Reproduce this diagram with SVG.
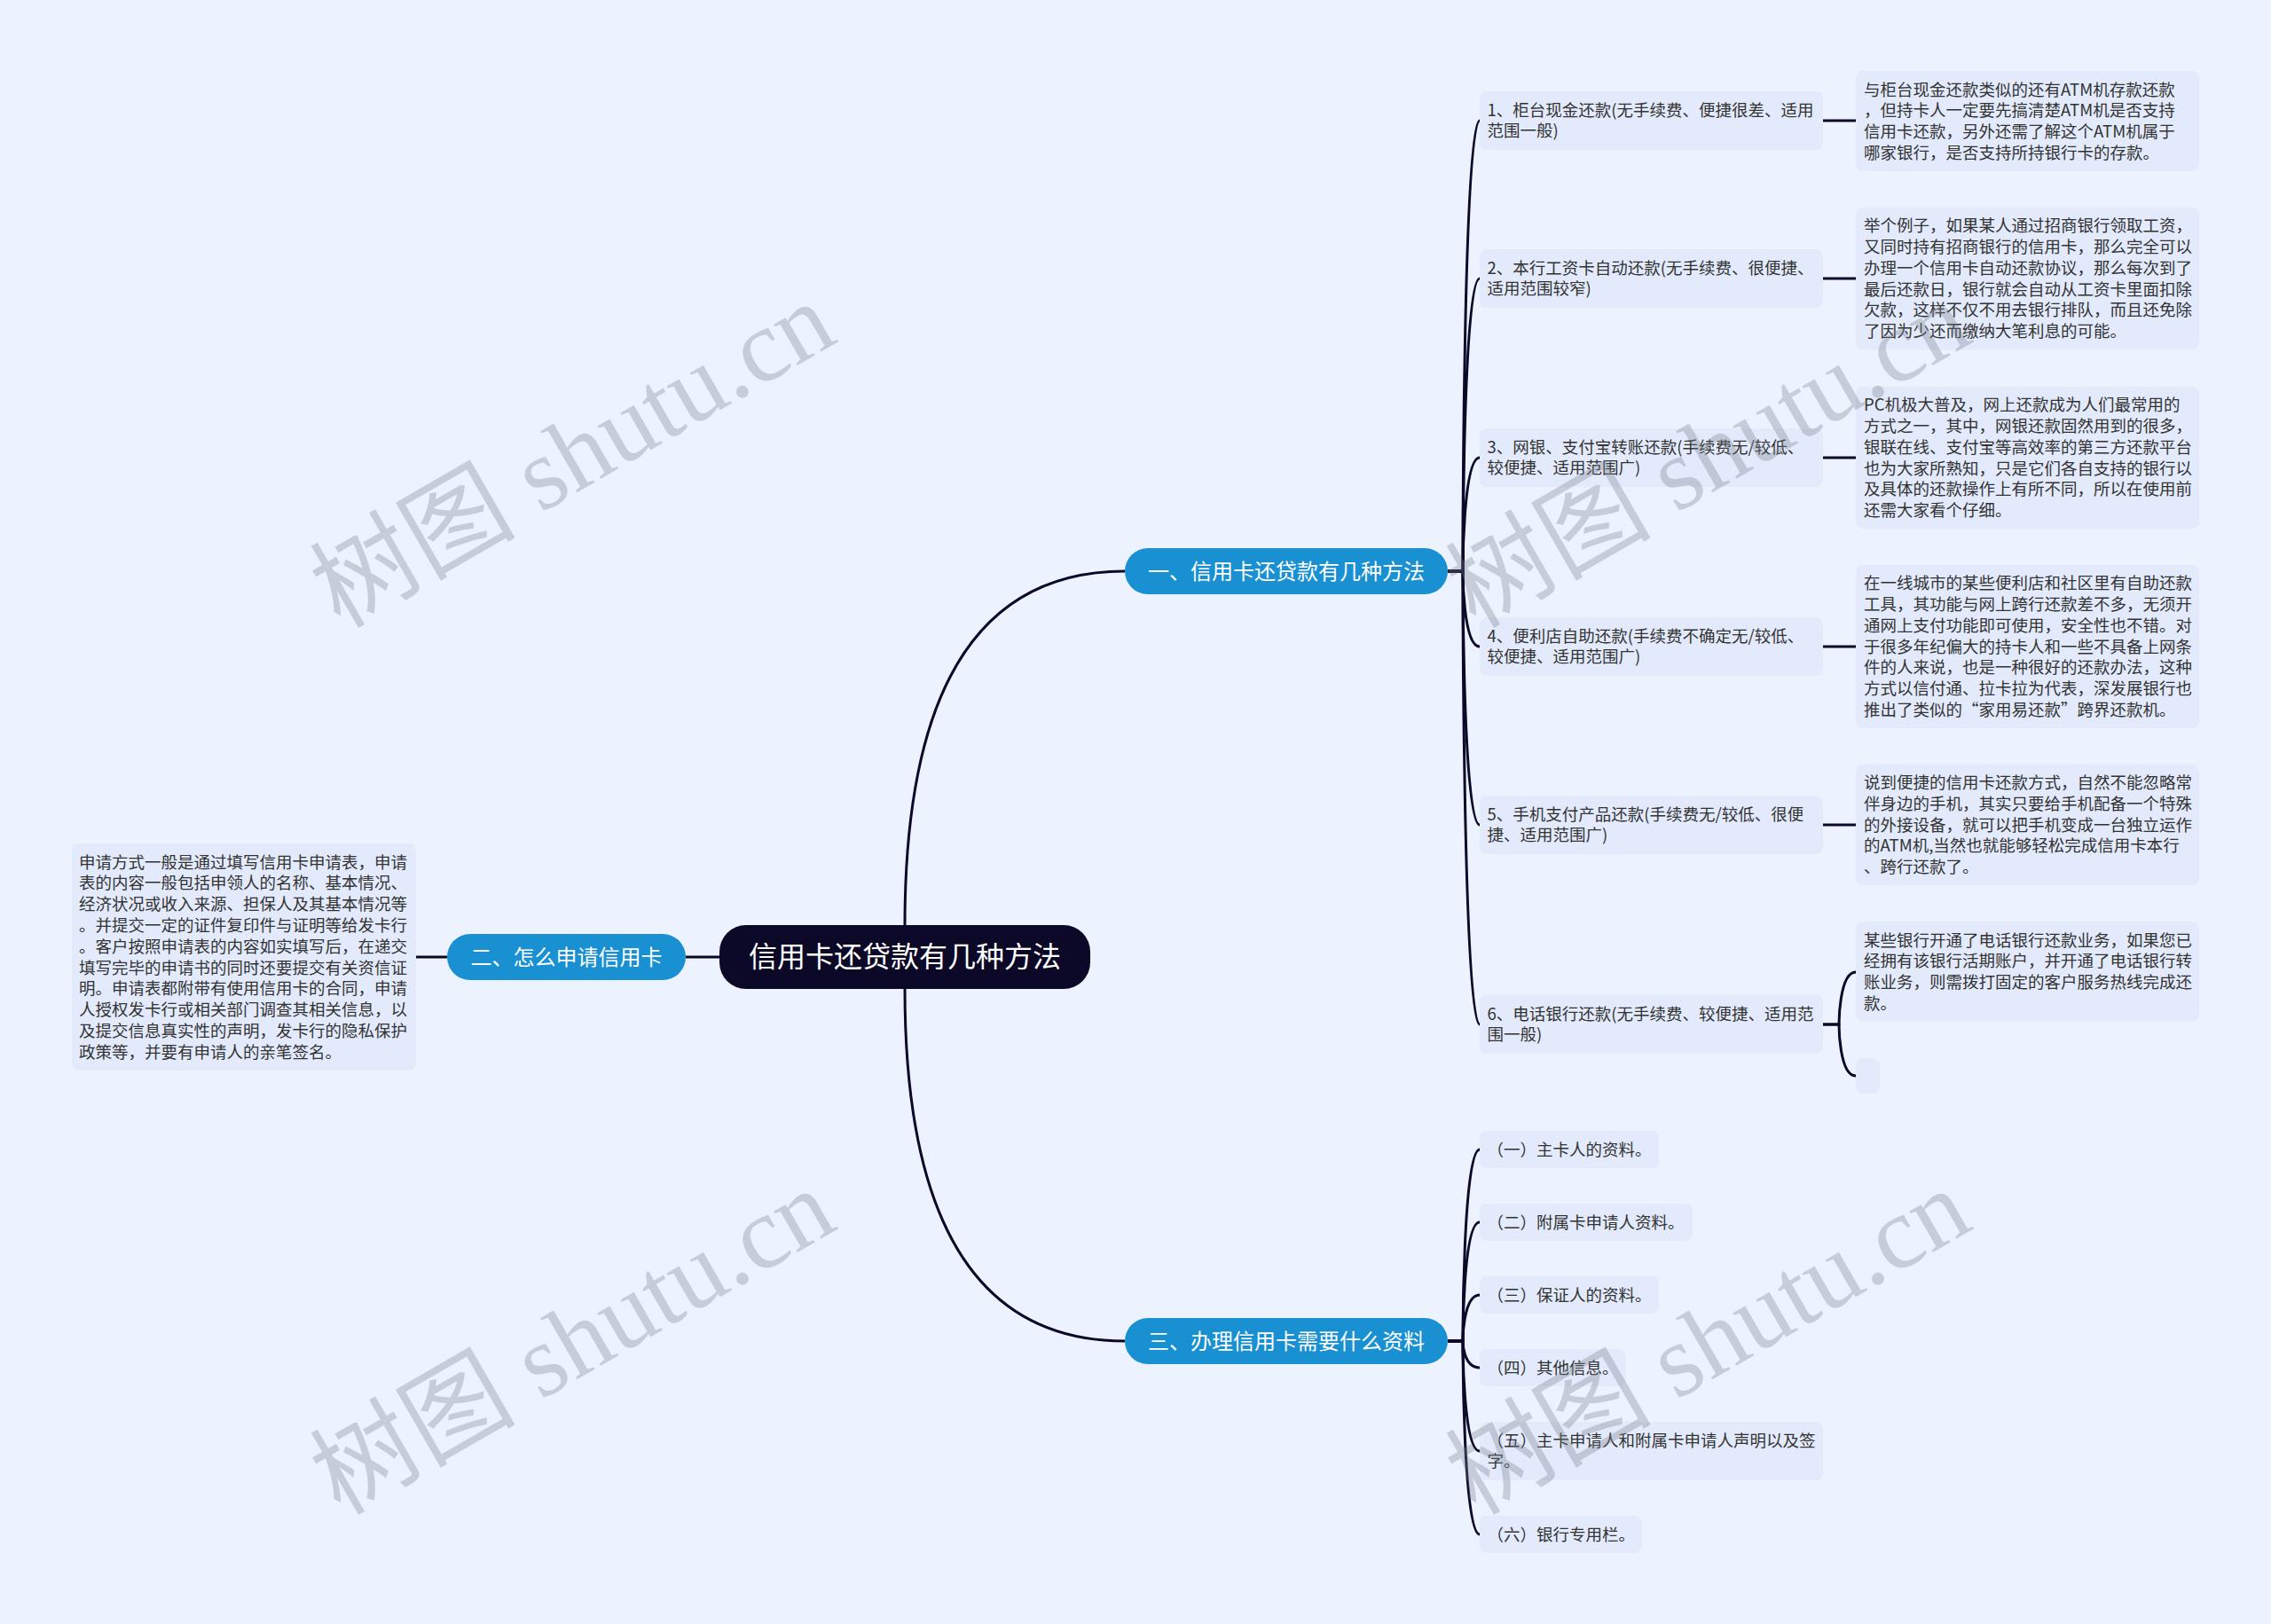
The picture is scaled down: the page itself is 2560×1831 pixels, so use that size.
<svg xmlns="http://www.w3.org/2000/svg" width="2560" height="1831" viewBox="0 0 2560 1831">
<style>
.bg{fill:#edf3fe}
.box{fill:#e2eafc}
.t{font-family:"Noto Sans CJK SC","Noto Sans",sans-serif;font-size:18.5px;fill:#333333}
.br{fill:#1890d2}
.bt{font-family:"Noto Sans CJK SC","Noto Sans",sans-serif;font-size:24px;fill:#ffffff;text-anchor:middle}
.root{fill:#0c0828}
.rt{font-family:"Noto Sans CJK SC","Noto Sans",sans-serif;font-size:32px;fill:#ffffff;text-anchor:middle}
.ln{fill:none;stroke:#0c0828;stroke-width:3}
.wm{font-family:"Liberation Serif","Noto Sans CJK SC",serif;font-size:116px;fill:#78808c;fill-opacity:0.33;text-anchor:middle}
</style>
<rect class="bg" x="0" y="0" width="2560" height="1831"/>
<g id="connectors">
<path class="ln" d="M1020,1043 Q1020,644 1268,644"/>
<path class="ln" d="M1020,1115 Q1020,1512 1268,1512"/>
<path class="ln" d="M811,1079 H773"/>
<path class="ln" d="M504,1079 H469"/>
<path class="ln" d="M1632,644 H1649 C1649,644 1649,136 1668,136"/>
<path class="ln" d="M1632,644 H1649 C1649,644 1649,314 1668,314"/>
<path class="ln" d="M1632,644 H1649 C1649,644 1649,516 1668,516"/>
<path class="ln" d="M1632,644 H1649 C1649,644 1649,729 1668,729"/>
<path class="ln" d="M1632,644 H1649 C1649,644 1649,930 1668,930"/>
<path class="ln" d="M1632,644 H1649 C1649,644 1649,1155 1668,1155"/>
<path class="ln" d="M2055,136 H2092"/>
<path class="ln" d="M2055,314 H2092"/>
<path class="ln" d="M2055,516 H2092"/>
<path class="ln" d="M2055,729 H2092"/>
<path class="ln" d="M2055,930 H2092"/>
<path class="ln" d="M2055,1155 H2073 C2073,1155 2073,1096 2092,1096"/>
<path class="ln" d="M2055,1155 H2073 C2073,1155 2073,1213 2092,1213"/>
<path class="ln" d="M1632,1512 H1649 C1649,1512 1649,1296 1668,1296"/>
<path class="ln" d="M1632,1512 H1649 C1649,1512 1649,1378 1668,1378"/>
<path class="ln" d="M1632,1512 H1649 C1649,1512 1649,1460 1668,1460"/>
<path class="ln" d="M1632,1512 H1649 C1649,1512 1649,1542 1668,1542"/>
<path class="ln" d="M1632,1512 H1649 C1649,1512 1649,1636 1668,1636"/>
<path class="ln" d="M1632,1512 H1649 C1649,1512 1649,1730 1668,1730"/>
</g>
<g id="root">
<rect class="root" x="811" y="1043" width="418" height="72" rx="30"/>
<text class="rt" x="1020" y="1090">信用卡还贷款有几种方法</text>
</g>
<g id="branch1">
<rect class="br" x="1268" y="618" width="364" height="52" rx="26"/>
<text class="bt" x="1450" y="652.5">一、信用卡还贷款有几种方法</text>
</g>
<g id="branch2">
<rect class="br" x="504" y="1053" width="269" height="52" rx="26"/>
<text class="bt" x="638.5" y="1087.5">二、怎么申请信用卡</text>
</g>
<g id="branch3">
<rect class="br" x="1268" y="1486" width="364" height="52" rx="26"/>
<text class="bt" x="1450" y="1520.5">三、办理信用卡需要什么资料</text>
</g>
<g id="leaf1">
<rect class="box" x="1668" y="103" width="387" height="66" rx="8"/>
<text class="t" x="1676.5" y="130.5">1、柜台现金还款(无手续费、便捷很差、适用<tspan x="1676.5" dy="23.8">范围一般)</tspan></text>
</g>
<g id="leaf2">
<rect class="box" x="1668" y="281" width="387" height="66" rx="8"/>
<text class="t" x="1676.5" y="308.5">2、本行工资卡自动还款(无手续费、很便捷、<tspan x="1676.5" dy="23.8">适用范围较窄)</tspan></text>
</g>
<g id="leaf3">
<rect class="box" x="1668" y="483" width="387" height="66" rx="8"/>
<text class="t" x="1676.5" y="510.5">3、网银、支付宝转账还款(手续费无/较低、<tspan x="1676.5" dy="23.8">较便捷、适用范围广)</tspan></text>
</g>
<g id="leaf4">
<rect class="box" x="1668" y="696" width="387" height="66" rx="8"/>
<text class="t" x="1676.5" y="723.5">4、便利店自助还款(手续费不确定无/较低、<tspan x="1676.5" dy="23.8">较便捷、适用范围广)</tspan></text>
</g>
<g id="leaf5">
<rect class="box" x="1668" y="897" width="387" height="66" rx="8"/>
<text class="t" x="1676.5" y="924.5">5、手机支付产品还款(手续费无/较低、很便<tspan x="1676.5" dy="23.8">捷、适用范围广)</tspan></text>
</g>
<g id="leaf6">
<rect class="box" x="1668" y="1122" width="387" height="66" rx="8"/>
<text class="t" x="1676.5" y="1149.5">6、电话银行还款(无手续费、较便捷、适用范<tspan x="1676.5" dy="23.8">围一般)</tspan></text>
</g>
<g id="detail1">
<rect class="box" x="2092" y="80" width="387" height="113" rx="8"/>
<text class="t" x="2101" y="107.5">与柜台现金还款类似的还有ATM机存款还款<tspan x="2101" dy="23.8">，但持卡人一定要先搞清楚ATM机是否支持</tspan><tspan x="2101" dy="23.8">信用卡还款，另外还需了解这个ATM机属于</tspan><tspan x="2101" dy="23.8">哪家银行，是否支持所持银行卡的存款。</tspan></text>
</g>
<g id="detail2">
<rect class="box" x="2092" y="233.6" width="387" height="160.8" rx="8"/>
<text class="t" x="2101" y="261.1">举个例子，如果某人通过招商银行领取工资，<tspan x="2101" dy="23.8">又同时持有招商银行的信用卡，那么完全可以</tspan><tspan x="2101" dy="23.8">办理一个信用卡自动还款协议，那么每次到了</tspan><tspan x="2101" dy="23.8">最后还款日，银行就会自动从工资卡里面扣除</tspan><tspan x="2101" dy="23.8">欠款，这样不仅不用去银行排队，而且还免除</tspan><tspan x="2101" dy="23.8">了因为少还而缴纳大笔利息的可能。</tspan></text>
</g>
<g id="detail3">
<rect class="box" x="2092" y="435.6" width="387" height="160.8" rx="8"/>
<text class="t" x="2101" y="463.1">PC机极大普及，网上还款成为人们最常用的<tspan x="2101" dy="23.8">方式之一，其中，网银还款固然用到的很多，</tspan><tspan x="2101" dy="23.8">银联在线、支付宝等高效率的第三方还款平台</tspan><tspan x="2101" dy="23.8">也为大家所熟知，只是它们各自支持的银行以</tspan><tspan x="2101" dy="23.8">及具体的还款操作上有所不同，所以在使用前</tspan><tspan x="2101" dy="23.8">还需大家看个仔细。</tspan></text>
</g>
<g id="detail4">
<rect class="box" x="2092" y="636.7" width="387" height="184.6" rx="8"/>
<text class="t" x="2101" y="664.2">在一线城市的某些便利店和社区里有自助还款<tspan x="2101" dy="23.8">工具，其功能与网上跨行还款差不多，无须开</tspan><tspan x="2101" dy="23.8">通网上支付功能即可使用，安全性也不错。对</tspan><tspan x="2101" dy="23.8">于很多年纪偏大的持卡人和一些不具备上网条</tspan><tspan x="2101" dy="23.8">件的人来说，也是一种很好的还款办法，这种</tspan><tspan x="2101" dy="23.8">方式以信付通、拉卡拉为代表，深发展银行也</tspan><tspan x="2101" dy="23.8">推出了类似的“家用易还款”跨界还款机。</tspan></text>
</g>
<g id="detail5">
<rect class="box" x="2092" y="861.5" width="387" height="137" rx="8"/>
<text class="t" x="2101" y="889">说到便捷的信用卡还款方式，自然不能忽略常<tspan x="2101" dy="23.8">伴身边的手机，其实只要给手机配备一个特殊</tspan><tspan x="2101" dy="23.8">的外接设备，就可以把手机变成一台独立运作</tspan><tspan x="2101" dy="23.8">的ATM机,当然也就能够轻松完成信用卡本行</tspan><tspan x="2101" dy="23.8">、跨行还款了。</tspan></text>
</g>
<g id="detail6">
<rect class="box" x="2092" y="1039" width="387" height="113" rx="8"/>
<text class="t" x="2101" y="1066.5">某些银行开通了电话银行还款业务，如果您已<tspan x="2101" dy="23.8">经拥有该银行活期账户，并开通了电话银行转</tspan><tspan x="2101" dy="23.8">账业务，则需拨打固定的客户服务热线完成还</tspan><tspan x="2101" dy="23.8">款。</tspan></text>
</g>
<g id="detail7">
<rect class="box" x="2092" y="1193" width="27" height="40" rx="8"/>
</g>
<g id="detail-apply">
<rect class="box" x="81" y="951" width="388" height="256" rx="8"/>
<text class="t" x="89" y="978.5">申请方式一般是通过填写信用卡申请表，申请<tspan x="89" dy="23.8">表的内容一般包括申领人的名称、基本情况、</tspan><tspan x="89" dy="23.8">经济状况或收入来源、担保人及其基本情况等</tspan><tspan x="89" dy="23.8">。并提交一定的证件复印件与证明等给发卡行</tspan><tspan x="89" dy="23.8">。客户按照申请表的内容如实填写后，在递交</tspan><tspan x="89" dy="23.8">填写完毕的申请书的同时还要提交有关资信证</tspan><tspan x="89" dy="23.8">明。申请表都附带有使用信用卡的合同，申请</tspan><tspan x="89" dy="23.8">人授权发卡行或相关部门调查其相关信息，以</tspan><tspan x="89" dy="23.8">及提交信息真实性的声明，发卡行的隐私保护</tspan><tspan x="89" dy="23.8">政策等，并要有申请人的亲笔签名。</tspan></text>
</g>
<g id="m1">
<rect class="box" x="1668" y="1275" width="202" height="42" rx="8"/>
<text class="t" x="1676.5" y="1302.5">（一）主卡人的资料。</text>
</g>
<g id="m2">
<rect class="box" x="1668" y="1357" width="240" height="42" rx="8"/>
<text class="t" x="1676.5" y="1384.5">（二）附属卡申请人资料。</text>
</g>
<g id="m3">
<rect class="box" x="1668" y="1439" width="202" height="42" rx="8"/>
<text class="t" x="1676.5" y="1466.5">（三）保证人的资料。</text>
</g>
<g id="m4">
<rect class="box" x="1668" y="1521" width="165" height="42" rx="8"/>
<text class="t" x="1676.5" y="1548.5">（四）其他信息。</text>
</g>
<g id="m5">
<rect class="box" x="1668" y="1603" width="387" height="66" rx="8"/>
<text class="t" x="1676.5" y="1630.5">（五）主卡申请人和附属卡申请人声明以及签<tspan x="1676.5" dy="23.8">字。</tspan></text>
</g>
<g id="m6">
<rect class="box" x="1668" y="1709" width="183" height="42" rx="8"/>
<text class="t" x="1676.5" y="1736.5">（六）银行专用栏。</text>
</g>
<g id="watermarks">
<text class="wm" transform="translate(646,514) rotate(-30)" x="0" y="38">树图 shutu.cn</text>
<text class="wm" transform="translate(1926,514) rotate(-30)" x="0" y="38">树图 shutu.cn</text>
<text class="wm" transform="translate(646,1514) rotate(-30)" x="0" y="38">树图 shutu.cn</text>
<text class="wm" transform="translate(1926,1514) rotate(-30)" x="0" y="38">树图 shutu.cn</text>
</g>
</svg>
